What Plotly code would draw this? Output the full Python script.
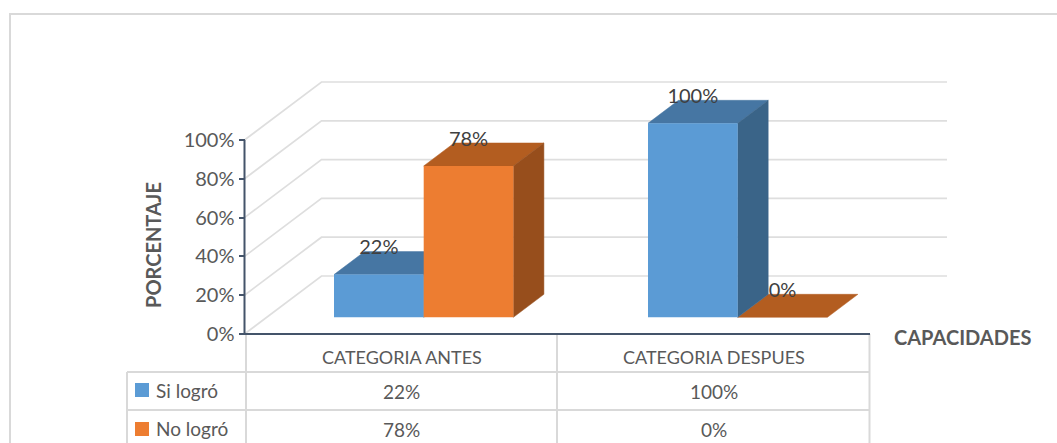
import plotly.graph_objects as go

categories = ["CATEGORIA ANTES", "CATEGORIA DESPUES"]
si_logro = [22, 100]
no_logro = [78, 0]
y_ticks = [0, 20, 40, 60, 80, 100]
series_names = ["Si logró", "No logró"]

W, H = 1057, 443
FONT = "Lato"
TEXT = "#595959"
LABEL = "#404040"
GRID = "#dedede"
TABLE = "#d9d9d9"

# pixel calibration of the two linear scales
PX_PER_PCT = 1.94
Y0_PX = 334.0
CAT_PX = 314.0
CAT0_PX = 401.7

def px_x(cat):
    return CAT0_PX + cat * CAT_PX

def cat_from_px(px):
    return (px - CAT0_PX) / CAT_PX

def pct_from_px(py):
    return (Y0_PX - py) / PX_PER_PCT

X_RANGE = [cat_from_px(0), cat_from_px(W)]
Y_RANGE = [pct_from_px(H), pct_from_px(0)]

# oblique projection, in axis units
WALL_DX = 77.0 / CAT_PX
WALL_DY = 58.0 / PX_PER_PCT
FLOOR_DX = 22.0 / CAT_PX
FLOOR_DY = 16.7 / PX_PER_PCT
DEPTH_DX = 30.5 / CAT_PX
DEPTH_DY = 23.0 / PX_PER_PCT
BAR_W = 89.7 / CAT_PX
AXIS_X = cat_from_px(244.5)
WALL_END = cat_from_px(947)
LABEL_DY = 13.0

fig = go.Figure()

# back wall grid lines
for v in y_ticks:
    fig.add_trace(go.Scatter(
        x=[AXIS_X, AXIS_X + WALL_DX, WALL_END], y=[v, v + WALL_DY, v + WALL_DY],
        mode="lines", line=dict(color=GRID, width=1.7),
        hoverinfo="skip", showlegend=False))

def face(xs, ys, color, name):
    fig.add_trace(go.Scatter(
        x=xs, y=ys, mode="lines", fill="toself", fillcolor=color,
        line=dict(color=color, width=0.5), name=name,
        hoverinfo="skip", showlegend=False))

def solid(values, side, top_color, side_color, name, with_top=True, with_side=True):
    for i, v in enumerate(values):
        left = i + FLOOR_DX + side * BAR_W
        right = left + BAR_W
        base = FLOOR_DY
        top = base + v
        if with_top:
            face([left, right, right + DEPTH_DX, left + DEPTH_DX, left],
                 [top, top, top + DEPTH_DY, top + DEPTH_DY, top], top_color, name)
        if with_side and v > 0:
            face([right, right + DEPTH_DX, right + DEPTH_DX, right, right],
                 [base, base + DEPTH_DY, top + DEPTH_DY, top, base], side_color, name)

solid(no_logro, 0, "#b35d20", "#974e1c", series_names[1])
solid(si_logro, -1, "#4676a3", "#3a6488", series_names[0])

# front faces on an overlaying pair of axes, so they cover the faces behind
bar_x_si = [i + FLOOR_DX - BAR_W / 2 for i in range(len(categories))]
bar_x_no = [i + FLOOR_DX + BAR_W / 2 for i in range(len(categories))]
fig.add_trace(go.Bar(x=bar_x_si, y=si_logro, base=FLOOR_DY, width=BAR_W, name=series_names[0],
                     marker=dict(color="#5b9bd5", line=dict(width=0)),
                     xaxis="x2", yaxis="y2", showlegend=False))
fig.add_trace(go.Bar(x=bar_x_no, y=no_logro, base=FLOOR_DY, width=BAR_W, name=series_names[1],
                     marker=dict(color="#ed7d31", line=dict(width=0)),
                     xaxis="x2", yaxis="y2", showlegend=False))

# data labels
fig.add_trace(go.Scatter(
    x=bar_x_si + bar_x_no,
    y=[v + FLOOR_DY + LABEL_DY for v in si_logro + no_logro],
    text=[f"{v}%" for v in si_logro + no_logro],
    mode="text", textposition="middle center",
    textfont=dict(family=FONT, size=20, color=LABEL),
    xaxis="x2", yaxis="y2", hoverinfo="skip", showlegend=False))

# axis lines
fig.add_trace(go.Scatter(
    x=[AXIS_X, AXIS_X, cat_from_px(870)], y=[100, 0, 0], mode="lines",
    line=dict(color="#44546a", width=2), xaxis="x2", yaxis="y2",
    hoverinfo="skip", showlegend=False))

fig.update_layout(
    width=W, height=H, autosize=False,
    margin=dict(l=0, r=0, t=0, b=0),
    paper_bgcolor="white", plot_bgcolor="white",
    barmode="overlay", showlegend=False,
    font=dict(family=FONT, color=TEXT),
    xaxis=dict(domain=[0, 1], range=X_RANGE, visible=False, fixedrange=True),
    yaxis=dict(domain=[0, 1], range=Y_RANGE, anchor="free", position=244.5 / W,
               tickmode="array", tickvals=y_ticks, ticktext=[f"{v}%" for v in y_ticks],
               ticks="outside", ticklen=6, tickwidth=2, tickcolor="#44546a",
               showgrid=False, zeroline=False, showline=False,
               tickfont=dict(family=FONT, size=20, color=TEXT), fixedrange=True),
    xaxis2=dict(overlaying="x", range=X_RANGE, visible=False, fixedrange=True),
    yaxis2=dict(overlaying="y", range=Y_RANGE, visible=False, fixedrange=True),
)

def hline(x0, x1, y, color=TABLE, width=2):
    return dict(type="line", xref="paper", yref="paper", x0=x0 / W, x1=x1 / W,
                y0=1 - y / H, y1=1 - y / H, line=dict(color=color, width=width), layer="below")

def vline(x, y0, y1, color=TABLE, width=2):
    return dict(type="line", xref="paper", yref="paper", x0=x / W, x1=x / W,
                y0=1 - y0 / H, y1=1 - y1 / H, line=dict(color=color, width=width), layer="below")

def key(x0, y0, size, color):
    return dict(type="rect", xref="paper", yref="paper", x0=x0 / W, x1=(x0 + size) / W,
                y0=1 - y0 / H, y1=1 - (y0 + size) / H, fillcolor=color, line=dict(width=0), layer="below")

fig.update_layout(shapes=[
    hline(9, W, 14), vline(10, 14, H),
    vline(246, 334, H), vline(557, 334, H), vline(869.5, 334, H),
    vline(127, 372, H),
    hline(127, 870, 372), hline(127, 870, 410),
    key(135, 383, 14, "#5b9bd5"), key(135, 422, 14, "#ed7d31"),
])

def note(text, x, y, size=19, color=TEXT, bold=False, angle=0, anchor="center"):
    fig.add_annotation(
        xref="paper", yref="paper", x=x / W, y=1 - y / H, text=f"<b>{text}</b>" if bold else text,
        showarrow=False, xanchor=anchor, yanchor="middle", textangle=angle,
        font=dict(family=FONT, size=size, color=color))

CENTERS = [401.5, 713.5]
for cx, cat, a, b in zip(CENTERS, categories, si_logro, no_logro):
    note(cat, cx, 357, size=18)
    note(f"{a}%", cx, 391)
    note(f"{b}%", cx, 429)

note(series_names[0], 154, 390, anchor="left")
note(series_names[1], 154, 428, anchor="left")
note("PORCENTAJE", 153, 245, size=20, bold=True, angle=-90)
note("CAPACIDADES", 962, 337, size=20, bold=True)

fig.write_html("out.html", config=dict(displayModeBar=False),
               post_script="document.body.style.margin='0';")
